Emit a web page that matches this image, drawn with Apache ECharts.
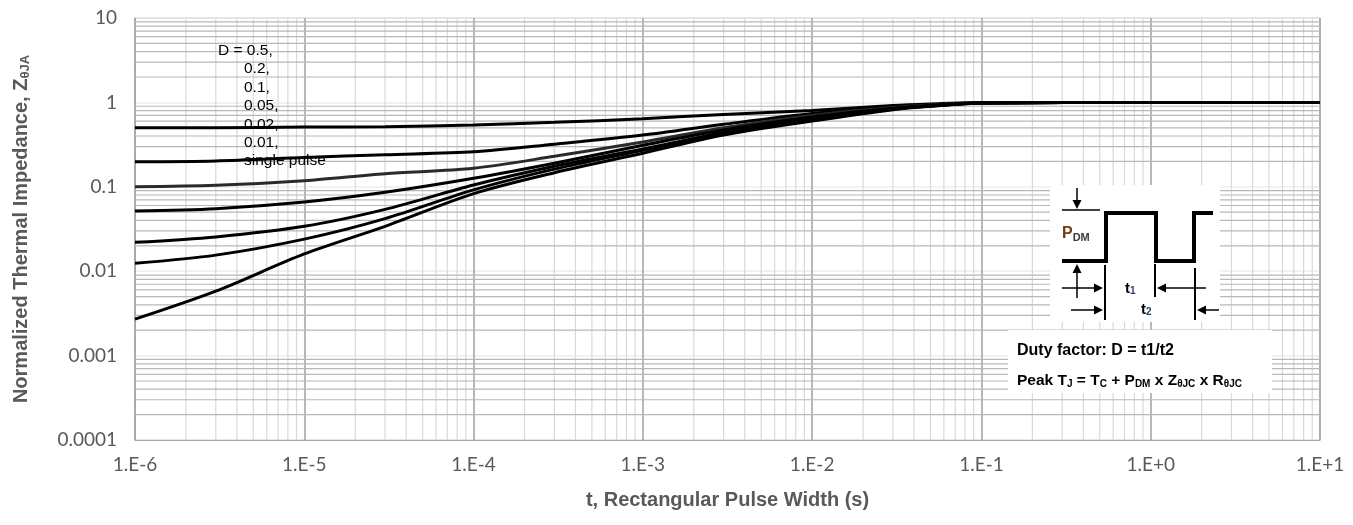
<!DOCTYPE html>
<html>
<head>
<meta charset="utf-8">
<script src="https://cdn.jsdelivr.net/npm/echarts@6/dist/echarts.min.js"></script>
<style>
html,body{margin:0;padding:0;background:#fff;}
#chart{width:1353px;height:525px;}
</style>
</head>
<body>
<div id="chart"></div>
<script>
// ---- data ----
const tValues = [1e-6, 3e-6, 1e-5, 3e-5, 1e-4, 3e-4, 1e-3, 3e-3, 1e-2, 3e-2, 5e-2, 1e-1, 1, 10];
const dutyLabels = ['D = 0.5,', '0.2,', '0.1,', '0.05,', '0.02,', '0.01,', 'single pulse'];
const zD05    = [0.50,   0.50,   0.51,  0.515, 0.54,  0.58,  0.64, 0.72, 0.80, 0.92, 0.96,  1.0,   1.0, 1.0];
const zD02    = [0.198,  0.202,  0.222, 0.24,  0.26,  0.32,  0.41, 0.55, 0.74, 0.89, 0.94,  0.99,  1.0, 1.0];
const zD01    = [0.100,  0.104,  0.118, 0.143, 0.166, 0.23,  0.34, 0.50, 0.70, 0.87, 0.93,  0.99,  1.0, 1.0];
const zD005   = [0.0516, 0.055,  0.066, 0.086, 0.126, 0.19,  0.31, 0.47, 0.67, 0.85, 0.92,  0.985, 1.0, 1.0];
const zD002   = [0.022,  0.0255, 0.034, 0.054, 0.105, 0.175, 0.28, 0.44, 0.64, 0.84, 0.91,  0.985, 1.0, 1.0];
const zD001   = [0.0124, 0.0155, 0.024, 0.042, 0.092, 0.162, 0.27, 0.43, 0.62, 0.83, 0.905, 0.985, 1.0, 1.0];
const zSingle = [0.0027, 0.0058, 0.016, 0.034, 0.083, 0.147, 0.25, 0.41, 0.60, 0.82, 0.90,  0.985, 1.0, 1.0];
const xTickLabels = ['1.E-6', '1.E-5', '1.E-4', '1.E-3', '1.E-2', '1.E-1', '1.E+0', '1.E+1'];
const yTickLabels = ['0.0001', '0.001', '0.01', '0.1', '1', '10'];
const xMinExp = -6, xMaxExp = 1, yMinExp = -4, yMaxExp = 1;

// ---- build ----
const allSeriesValues = [zD05, zD02, zD01, zD005, zD002, zD001, zSingle];
const seriesColors = ['#000', '#000', '#2a2a2a', '#000', '#000', '#000', '#000'];
const xMin = Math.pow(10, xMinExp), xMax = Math.pow(10, xMaxExp);
const yMin = Math.pow(10, yMinExp), yMax = Math.pow(10, yMaxExp);

function pairs(vals) { return tValues.map((t, i) => [t, vals[i]]); }

// graph-paper minor grid lines as broken line series
const vMinor = [], hMinor = [];
for (let e = xMinExp; e < xMaxExp; e++) {
  for (let m = 2; m <= 9; m++) {
    const v = m * Math.pow(10, e);
    vMinor.push([v, yMin], [v, yMax], [v, null]);
  }
}
for (let e = yMinExp; e < yMaxExp; e++) {
  for (let m = 2; m <= 9; m++) {
    const v = m * Math.pow(10, e);
    hMinor.push([xMin, v], [xMax, v], [null, v]);
  }
}

const series = [
  {type: 'line', data: vMinor, z: 1, silent: true, symbol: 'none', connectNulls: false,
   lineStyle: {color: '#d9d9d9', width: 1.2}},
  {type: 'line', data: hMinor, z: 1, silent: true, symbol: 'none', connectNulls: false,
   lineStyle: {color: '#b8b8b8', width: 1.2}}
];
allSeriesValues.forEach((vals, i) => {
  series.push({
    name: dutyLabels[i], type: 'line', data: pairs(vals), z: 5,
    smooth: 0.3, symbol: 'none',
    lineStyle: {color: seriesColors[i], width: 3}
  });
});

// inset diagram helpers
function arrow(x1, y1, x2, y2, w) {
  const dx = x2 - x1, dy = y2 - y1, L = Math.hypot(dx, dy), ux = dx / L, uy = dy / L;
  const hl = 9, hw = 4.5;
  const bx = x2 - ux * hl, by = y2 - uy * hl;
  return [
    {type: 'line', z: 20, shape: {x1: x1, y1: y1, x2: bx, y2: by}, style: {stroke: '#000', lineWidth: w || 2}},
    {type: 'polygon', z: 20, shape: {points: [[x2, y2], [bx - uy * hw, by + ux * hw], [bx + uy * hw, by - ux * hw]]}, style: {fill: '#000'}}
  ];
}
const graphics = [];
// legend-like text
const legendPos = [[218, 52], [244, 70], [244, 89], [244, 107], [244, 126], [244, 144], [244, 162]];
dutyLabels.forEach((s, i) => {
  graphics.push({type: 'text', z: 10, left: legendPos[i][0], top: legendPos[i][1] - 9,
    style: {text: s, font: '15.5px "Liberation Sans", Arial, sans-serif', fill: '#000'}});
});
// inset boxes
graphics.push({type: 'rect', z: 15, shape: {x: 1050, y: 185, width: 170, height: 137}, style: {fill: '#fff'}});
graphics.push({type: 'rect', z: 15, shape: {x: 1008, y: 330, width: 264, height: 63}, style: {fill: '#fff'}});
// waveform
graphics.push({type: 'polyline', z: 20, shape: {points: [[1062, 261], [1106, 261], [1106, 213], [1156, 213], [1156, 261], [1194, 261], [1194, 213], [1213, 213]]},
  style: {stroke: '#000', lineWidth: 4, fill: null}});
// P_DM arrow and reference line
graphics.push({type: 'line', z: 20, shape: {x1: 1062, y1: 210, x2: 1100, y2: 210}, style: {stroke: '#000', lineWidth: 1.5}});
graphics.push(...arrow(1077, 188, 1077, 209, 1.5));
graphics.push(...arrow(1077, 298, 1077, 264, 1.5));
graphics.push({type: 'text', z: 20, left: 1062, top: 226,
  style: {rich: {p: {fontSize: 16, fontWeight: 'bold', fill: '#6b4214', fontFamily: 'Liberation Sans'},
                 s: {fontSize: 11, fontWeight: 'bold', fill: '#3a3a3a', fontFamily: 'Liberation Sans', padding: [7, 0, 0, 0]}},
          text: '{p|P}{s|DM}'}});
// t1/t2 markers
graphics.push({type: 'line', z: 20, shape: {x1: 1105, y1: 265, x2: 1105, y2: 320}, style: {stroke: '#000', lineWidth: 2}});
graphics.push({type: 'line', z: 20, shape: {x1: 1155, y1: 264, x2: 1155, y2: 297}, style: {stroke: '#000', lineWidth: 2}});
graphics.push({type: 'line', z: 20, shape: {x1: 1195, y1: 268, x2: 1195, y2: 320}, style: {stroke: '#000', lineWidth: 2}});
graphics.push(...arrow(1062, 288, 1103, 288, 1.5));
graphics.push(...arrow(1206, 288, 1157, 288, 1.5));
graphics.push(...arrow(1071, 310, 1103, 310, 1.5));
graphics.push(...arrow(1219, 310, 1197, 310, 1.5));
graphics.push({type: 'text', z: 20, left: 1125, top: 281,
  style: {rich: {p: {fontSize: 15, fontWeight: 'bold', fill: '#000', fontFamily: 'Liberation Sans'},
                 s: {fontSize: 10, fontWeight: 'bold', fill: '#1f3a5f', fontFamily: 'Liberation Sans', padding: [6, 0, 0, 0]}},
          text: '{p|t}{s|1}'}});
graphics.push({type: 'text', z: 20, left: 1141, top: 302,
  style: {rich: {p: {fontSize: 15, fontWeight: 'bold', fill: '#000', fontFamily: 'Liberation Sans'},
                 s: {fontSize: 10, fontWeight: 'bold', fill: '#1f3a5f', fontFamily: 'Liberation Sans', padding: [6, 0, 0, 0]}},
          text: '{p|t}{s|2}'}});
// formula text
graphics.push({type: 'text', z: 20, left: 1017, top: 343,
  style: {text: 'Duty factor: D = t1/t2', font: 'bold 16px "Liberation Sans", Arial, sans-serif', fill: '#000'}});
graphics.push({type: 'text', z: 20, left: 1017, top: 373,
  style: {rich: {p: {fontSize: 15.5, fontWeight: 'bold', fill: '#000', fontFamily: 'Liberation Sans'},
                 s: {fontSize: 10, fontWeight: 'bold', fill: '#000', fontFamily: 'Liberation Sans', padding: [7, 0, 0, 0]}},
          text: '{p|Peak T}{s|J}{p| = T}{s|C}{p| + P}{s|DM}{p| x Z}{s|θJC}{p| x R}{s|θJC}'}});

const chart = echarts.init(document.getElementById('chart'), null, {renderer: 'canvas'});
chart.setOption({
  animation: false,
  backgroundColor: '#fff',
  grid: {left: 135, right: 33, top: 18, bottom: 85, show: true, borderColor: '#a6a6a6', borderWidth: 1},
  xAxis: {
    type: 'log', logBase: 10, min: xMin, max: xMax, interval: 1,
    axisLine: {show: true, lineStyle: {color: '#a6a6a6', width: 1}},
    axisTick: {show: false},
    splitLine: {show: true, lineStyle: {color: '#a6a6a6', width: 1.6}},
    axisLabel: {
      color: '#595959', fontSize: 19, fontFamily: 'Lato', margin: 15, showMinLabel: true, showMaxLabel: true,
      formatter: v => xTickLabels[Math.round(Math.log10(v)) - xMinExp]
    },
    name: 't, Rectangular Pulse Width (s)', nameLocation: 'middle', nameGap: 50,
    nameTextStyle: {color: '#595959', fontSize: 20, fontWeight: 'bold', fontFamily: 'Liberation Sans'}
  },
  yAxis: {
    type: 'log', logBase: 10, min: yMin, max: yMax, interval: 1,
    axisLine: {show: true, lineStyle: {color: '#a6a6a6', width: 1}},
    axisTick: {show: false},
    splitLine: {show: true, lineStyle: {color: '#ececec', width: 1.5}},
    axisLabel: {
      color: '#595959', fontSize: 19, fontFamily: 'Lato', margin: 18, showMinLabel: true, showMaxLabel: true,
      formatter: v => yTickLabels[Math.round(Math.log10(v)) - yMinExp]
    },
    name: 'Normalized Thermal Impedance, Z{sub|θJA}', nameLocation: 'middle', nameGap: 103, nameRotate: 90,
    nameTextStyle: {color: '#595959', fontSize: 20, fontWeight: 'bold', fontFamily: 'Liberation Sans',
      rich: {sub: {color: '#595959', fontSize: 13, fontWeight: 'bold', fontFamily: 'Liberation Sans', padding: [9, 0, 0, 0]}}}
  },
  series: series,
  graphic: graphics
});
</script>
</body>
</html>
